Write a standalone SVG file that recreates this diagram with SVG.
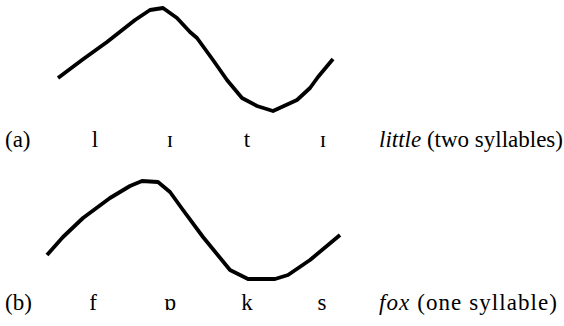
<svg xmlns="http://www.w3.org/2000/svg" width="564" height="326" viewBox="0 0 564 326">
<style>
.c{fill:none;stroke:#000;stroke-width:3.8;stroke-linejoin:round;stroke-linecap:butt}
text{font-family:"Liberation Serif",serif;font-size:23px;fill:#000}
.i{font-style:italic}
.m{text-anchor:middle}
</style>
<rect width="564" height="326" fill="#fff"/>
<g id="connectors">
<polyline id="curve-a" class="c" points="58,78 82,60 107,42 135,20 150,10 163,8 177,18 190,32 197,38 213,60 227,80 242,98 257,106 273,111 297,100 310,88 318,77 333,59"/>
<polyline id="curve-b" class="c" points="47,255 63,237 83,218 110,198 130,186 142,181 158,182 170,192 183,210 203,237 230,270 248,279 275,279 288,275 310,260 340,235"/>
</g>
<g id="row-a">
<text x="5" y="147">(a)</text>
<text class="m" x="95" y="147">l</text>
<text class="m" x="170" y="147">ɪ</text>
<text class="m" x="247" y="147">t</text>
<text class="m" x="323" y="147">ɪ</text>
<text x="379" y="147"><tspan class="i">little</tspan> (two syllables)</text>
</g>
<g id="row-b">
<text x="5" y="310">(b)</text>
<text class="m" x="93" y="310">f</text>
<text class="m" x="170" y="310">ɒ</text>
<text class="m" x="247" y="310">k</text>
<text class="m" x="322" y="310">s</text>
<text x="379" y="310" textLength="178" lengthAdjust="spacing"><tspan class="i">fox</tspan> (one syllable)</text>
</g>
</svg>
